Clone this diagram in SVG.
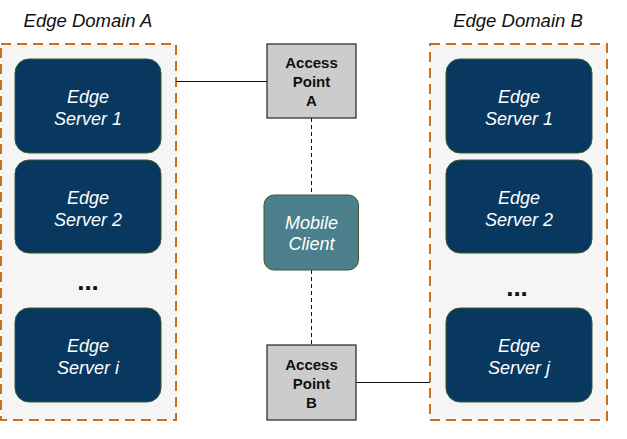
<svg xmlns="http://www.w3.org/2000/svg" width="627" height="439" viewBox="0 0 627 439">
<style>
.dom{fill:#f5f5f5;stroke:#c8701a;stroke-width:2;stroke-dasharray:10 6}
.srv{fill:#08375f;stroke:#3b5a2e;stroke-width:1}
.st{font-family:"Liberation Sans",Arial,sans-serif;font-style:italic;font-size:18px;fill:#ffffff;text-anchor:middle}
.lbl{font-family:"Liberation Sans",Arial,sans-serif;font-style:italic;font-size:18.5px;fill:#111;text-anchor:middle}
.ap{fill:#cccccc;stroke:#222;stroke-width:1.2}
.apt{font-family:"Liberation Sans",Arial,sans-serif;font-weight:bold;font-size:15px;fill:#111;text-anchor:middle}
.dots{font-family:"Liberation Sans",Arial,sans-serif;font-weight:bold;font-size:26px;fill:#111;text-anchor:middle}
.ln{stroke:#111;stroke-width:1;fill:none}
.dl{stroke:#111;stroke-width:1;fill:none;stroke-dasharray:4 3}
</style>
<g id="domainA">
<rect class="dom" x="1" y="44" width="175" height="376"/>
<text class="lbl" x="88" y="27">Edge Domain A</text>
</g>
<g id="domainB">
<rect class="dom" x="430" y="44" width="177" height="376"/>
<text class="lbl" x="518" y="27">Edge Domain B</text>
</g>
<g id="connectors">
<line class="ln" x1="176" y1="81.5" x2="267" y2="81.5"/>
<line class="ln" x1="356" y1="382.5" x2="430" y2="382.5"/>
<line class="dl" x1="311.5" y1="118" x2="311.5" y2="195"/>
<line class="dl" x1="311.5" y1="270" x2="311.5" y2="345"/>
</g>
<g id="serverA1"><rect class="srv" x="15" y="59" width="146" height="94" rx="14"/><text class="st" x="88" y="103">Edge</text><text class="st" x="88" y="125">Server 1</text></g>
<g id="serverA2"><rect class="srv" x="15" y="160" width="146" height="93" rx="14"/><text class="st" x="88" y="204">Edge</text><text class="st" x="88" y="226">Server 2</text></g>
<g id="dotsA"><text class="dots" x="88" y="290">...</text></g>
<g id="serverAi"><rect class="srv" x="15" y="308" width="146" height="94" rx="14"/><text class="st" x="88" y="352">Edge</text><text class="st" x="88" y="374">Server i</text></g>
<g id="serverB1"><rect class="srv" x="446" y="59" width="146" height="94" rx="14"/><text class="st" x="519" y="103">Edge</text><text class="st" x="519" y="125">Server 1</text></g>
<g id="serverB2"><rect class="srv" x="446" y="160" width="146" height="93" rx="14"/><text class="st" x="519" y="204">Edge</text><text class="st" x="519" y="226">Server 2</text></g>
<g id="dotsB"><text class="dots" x="517" y="296">...</text></g>
<g id="serverBj"><rect class="srv" x="446" y="308" width="146" height="94" rx="14"/><text class="st" x="519" y="352">Edge</text><text class="st" x="519" y="374">Server j</text></g>
<g id="apA"><rect class="ap" x="267" y="44" width="89" height="74"/><text class="apt" x="311.5" y="68">Access</text><text class="apt" x="311.5" y="87">Point</text><text class="apt" x="311.5" y="106">A</text></g>
<g id="apB"><rect class="ap" x="267" y="345" width="89" height="75"/><text class="apt" x="311.5" y="370">Access</text><text class="apt" x="311.5" y="389">Point</text><text class="apt" x="311.5" y="408">B</text></g>
<g id="mobile"><rect x="264" y="195" width="94.5" height="75" rx="10" fill="#4a7f8b" stroke="#3b5a2e" stroke-width="1"/><text class="st" x="311.5" y="229">Mobile</text><text class="st" x="311.5" y="250">Client</text></g>
</svg>
